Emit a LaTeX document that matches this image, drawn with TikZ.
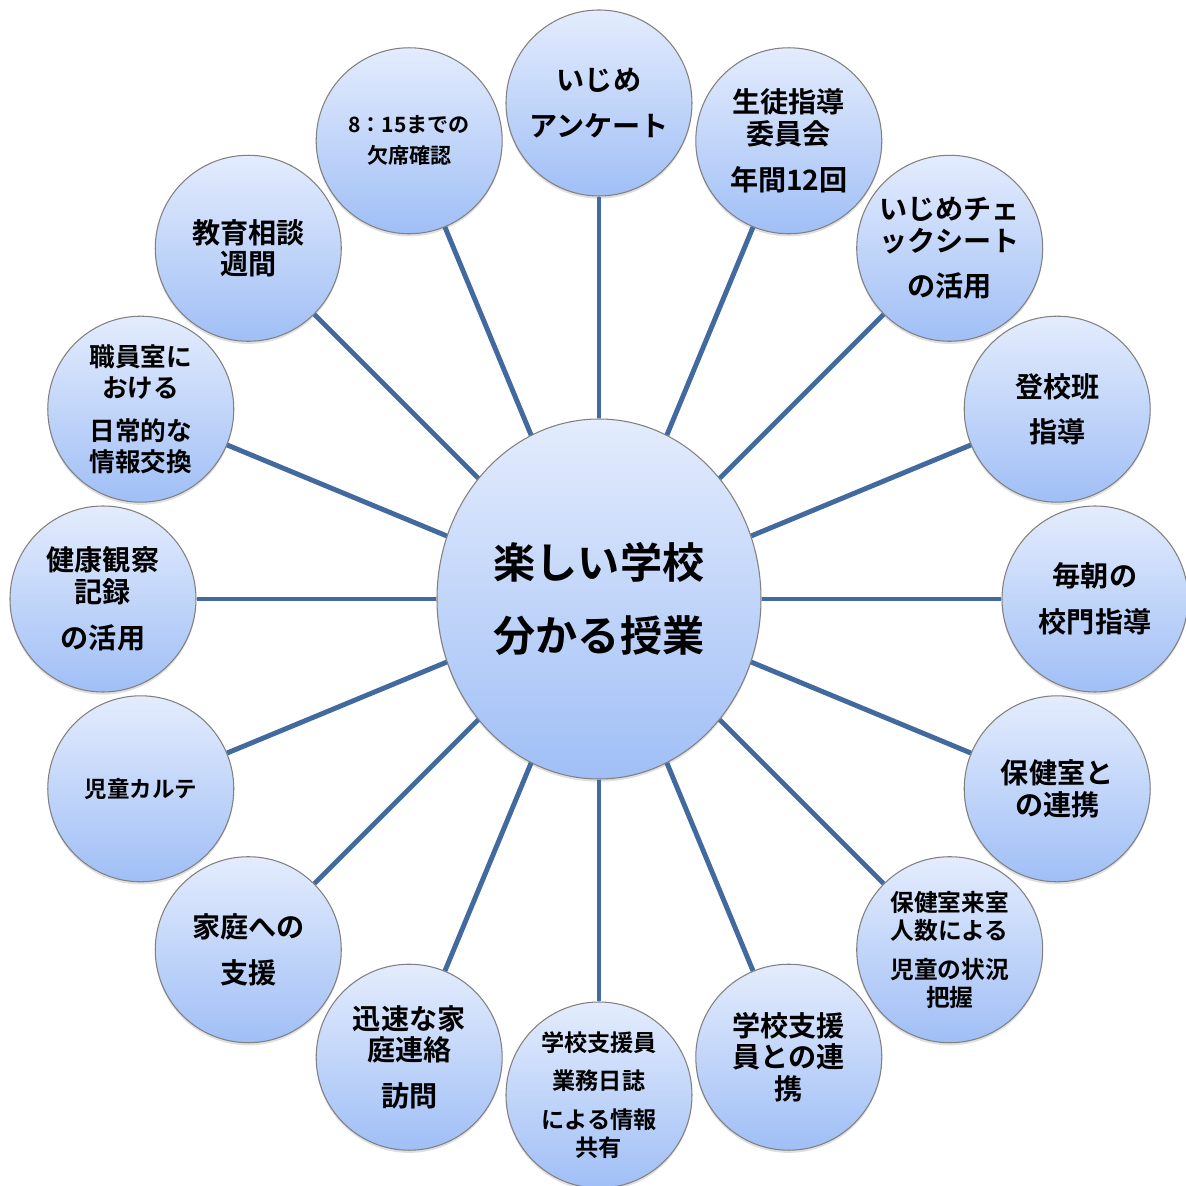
\documentclass[tikz,border=0pt]{standalone}
\usepackage{fontspec}
\usepackage{tikz}
\usetikzlibrary{shapes.geometric, shadows}
\newfontfamily\jp{Noto Sans CJK JP}[BoldFont=* Bold]
\definecolor{bubbletop}{RGB}{228,236,253}
\definecolor{bubblebot}{RGB}{160,191,246}
\definecolor{bubbleline}{RGB}{128,128,128}
\definecolor{spokeblue}{RGB}{66,106,158}
\tikzset{
  bubble/.style={circle, draw=bubbleline, line width=0.6pt,
    top color=bubbletop, bottom color=bubblebot,
    drop shadow={shadow xshift=0pt, shadow yshift=-1.5pt, opacity=0.25},
    minimum size=3.72cm, inner sep=0pt, align=center,
    font=\jp\bfseries\fontsize{16}{18}\selectfont},
  smalltext/.style={font=\jp\bfseries\fontsize{13.5}{16}\selectfont},
  hub/.style={bubble, ellipse, minimum width=6.48cm, minimum height=7.2cm,
    font=\jp\bfseries\fontsize{24}{42}\selectfont},
  spoke/.style={draw=spokeblue, line width=2.8pt},
}

\begin{document}
\begin{tikzpicture}
  \useasboundingbox (-11.98,-11.74) rectangle (11.74,11.98);

  % centre
  \node[hub] (hub) at (0,0) {楽しい学校\\分かる授業};

  % ring
  \node[bubble] (ijime) at (90:9.92) {いじめ\\[8pt]アンケート};
  \node[bubble] (iinkai) at (67.5:9.92) {生徒指導\\委員会\\[8pt]年間12回};
  \node[bubble] (check) at (45:9.92) {いじめチェ\\ックシート\\[8pt]の活用};
  \node[bubble] (touko) at (22.5:9.92) {登校班\\[8pt]指導};
  \node[bubble] (koumon) at (0:9.92) {毎朝の\\[8pt]校門指導};
  \node[bubble] (hoken) at (-22.5:9.92) {保健室と\\の連携};
  \node[bubble, smalltext] (raishitsu) at (-45:9.92) {保健室来室\\人数による\\[6pt]児童の状況\\把握};
  \node[bubble] (shienin) at (-67.5:9.92) {学校支援\\員との連\\携};
  \node[bubble, font=\jp\bfseries\fontsize{13.2}{16}\selectfont] (nisshi) at (-90:9.92) {学校支援員\\[6pt]業務日誌\\[6pt]による情報\\共有};
  \node[bubble] (katei) at (-112.5:9.92) {迅速な家\\庭連絡\\[8pt]訪問};
  \node[bubble] (shien) at (-135:9.92) {家庭への\\[8pt]支援};
  \node[bubble, font=\jp\bfseries\fontsize{12.8}{16}\selectfont] (karte) at (-157.5:9.92) {児童カルテ};
  \node[bubble] (kenkou) at (180:9.92) {健康観察\\記録\\[8pt]の活用};
  \node[bubble, font=\jp\bfseries\fontsize{14.6}{17.5}\selectfont] (shokuin) at (157.5:9.92) {職員室に\\おける\\[7pt]日常的な\\情報交換};
  \node[bubble] (soudan) at (135:9.92) {教育相談\\週間};
  \node[bubble, font=\jp\bfseries\fontsize{12}{17.6}\selectfont] (kesseki) at (112.5:9.92) {8：15までの\\欠席確認};

  % spokes
  \draw[spoke] (hub) edge (ijime) (hub) edge (iinkai)
    (hub) edge (check) (hub) edge (touko)
    (hub) edge (koumon) (hub) edge (hoken)
    (hub) edge (raishitsu) (hub) edge (shienin)
    (hub) edge (nisshi) (hub) edge (katei)
    (hub) edge (shien) (hub) edge (karte)
    (hub) edge (kenkou) (hub) edge (shokuin)
    (hub) edge (soudan) (hub) edge (kesseki);

\end{tikzpicture}
\end{document}
